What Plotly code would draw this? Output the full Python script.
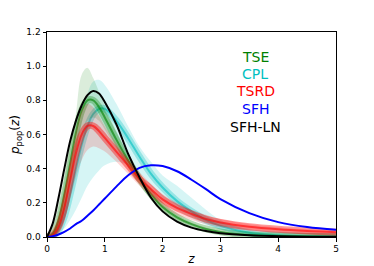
import plotly.graph_objects as go

# redshift grid
z = [0, 0.1, 0.2, 0.3, 0.4, 0.5, 0.6, 0.7, 0.8, 0.9, 1.0, 1.2, 1.4, 1.6, 1.8,
     2.0, 2.25, 2.5, 2.75, 3.0, 3.5, 4.0, 4.5, 5.0]

# SFH-LN (black)
sfh_ln = [0, 0.08, 0.23, 0.40, 0.56, 0.68, 0.77, 0.83, 0.855, 0.84, 0.79, 0.66,
          0.49, 0.35, 0.23, 0.15, 0.09, 0.055, 0.035, 0.022, 0.01, 0.005, 0.002, 0.001]
# SFH (blue)
sfh = [0, 0.005, 0.015, 0.03, 0.05, 0.075, 0.095, 0.125, 0.155, 0.19, 0.225, 0.295,
       0.36, 0.405, 0.42, 0.415, 0.385, 0.335, 0.28, 0.222, 0.14, 0.087, 0.058, 0.042]

# TSE (green) posterior band
tse_hi = [0, 0.03, 0.15, 0.33, 0.52, 0.72, 0.95, 0.99, 0.93, 0.85, 0.77, 0.62, 0.48,
          0.36, 0.26, 0.19, 0.13, 0.085, 0.055, 0.035, 0.015, 0.007, 0.003, 0.002]
tse_mid = [0, 0.02, 0.10, 0.25, 0.43, 0.61, 0.74, 0.80, 0.80, 0.76, 0.70, 0.57, 0.45,
           0.34, 0.25, 0.175, 0.115, 0.075, 0.047, 0.03, 0.012, 0.006, 0.003, 0.001]
tse_lo = [0, 0.01, 0.06, 0.17, 0.33, 0.50, 0.62, 0.68, 0.70, 0.68, 0.63, 0.52, 0.41,
          0.31, 0.22, 0.155, 0.10, 0.065, 0.04, 0.025, 0.01, 0.005, 0.002, 0.001]

# CPL (cyan) posterior band
cpl_hi = [0, 0.01, 0.07, 0.20, 0.38, 0.56, 0.72, 0.84, 0.91, 0.92, 0.89, 0.78, 0.65,
          0.53, 0.44, 0.36, 0.30, 0.23, 0.16, 0.10, 0.04, 0.015, 0.007, 0.003]
cpl_mid = [0, 0.006, 0.04, 0.12, 0.25, 0.40, 0.54, 0.65, 0.72, 0.75, 0.75, 0.68, 0.58,
           0.47, 0.37, 0.29, 0.21, 0.15, 0.10, 0.065, 0.025, 0.01, 0.004, 0.002]
cpl_lo = [0, 0.003, 0.02, 0.05, 0.10, 0.16, 0.23, 0.30, 0.35, 0.39, 0.42, 0.44, 0.42,
          0.37, 0.30, 0.23, 0.16, 0.11, 0.07, 0.045, 0.015, 0.005, 0.002, 0.001]

# TSRD (red) posterior band
tsrd_hi = [0, 0.02, 0.10, 0.25, 0.44, 0.62, 0.74, 0.78, 0.76, 0.71, 0.65, 0.55, 0.46,
           0.38, 0.31, 0.25, 0.20, 0.16, 0.13, 0.105, 0.075, 0.057, 0.045, 0.038]
tsrd_mid = [0, 0.01, 0.06, 0.17, 0.33, 0.49, 0.60, 0.65, 0.65, 0.62, 0.58, 0.50, 0.42,
            0.34, 0.28, 0.22, 0.17, 0.135, 0.105, 0.085, 0.06, 0.045, 0.035, 0.028]
tsrd_lo = [0, 0.005, 0.03, 0.10, 0.22, 0.35, 0.45, 0.51, 0.53, 0.52, 0.50, 0.44, 0.37,
           0.30, 0.24, 0.18, 0.13, 0.10, 0.075, 0.055, 0.035, 0.025, 0.018, 0.013]

legend_names = ["TSE", "CPL", "TSRD", "SFH", "SFH-LN"]
legend_colors = ["#008000", "#00BFBF", "#FF0000", "#0000FF", "#000000"]
legend_y = [1.055, 0.953, 0.852, 0.75, 0.645]

fig = go.Figure()


def rgba(hexc, a):
    h = hexc.lstrip("#")
    return "rgba(%d,%d,%d,%.3f)" % (int(h[0:2], 16), int(h[2:4], 16), int(h[4:6], 16), a)


def add_band(lo, mid, hi, col, fill_a, core_a):
    fig.add_trace(go.Scatter(x=z, y=lo, mode="lines", line=dict(width=0, shape="spline"),
                             showlegend=False, hoverinfo="skip"))
    fig.add_trace(go.Scatter(x=z, y=hi, mode="lines", line=dict(width=0, shape="spline"),
                             fill="tonexty", fillcolor=rgba(col, fill_a),
                             showlegend=False, hoverinfo="skip"))
    fig.add_trace(go.Scatter(x=z, y=mid, mode="lines",
                             line=dict(width=7, color=rgba(col, core_a), shape="spline"),
                             showlegend=False, hoverinfo="skip"))
    fig.add_trace(go.Scatter(x=z, y=mid, mode="lines",
                             line=dict(width=2, color=rgba(col, 0.6), shape="spline"),
                             showlegend=False, hoverinfo="skip"))


add_band(cpl_lo, cpl_mid, cpl_hi, "#00BFBF", 0.16, 0.30)
add_band(tse_lo, tse_mid, tse_hi, "#008000", 0.14, 0.30)
add_band(tsrd_lo, tsrd_mid, tsrd_hi, "#FF0000", 0.16, 0.40)

fig.add_trace(go.Scatter(x=z, y=sfh, mode="lines",
                         line=dict(width=2, color="#0000FF", shape="spline"), showlegend=False))
fig.add_trace(go.Scatter(x=z, y=sfh_ln, mode="lines",
                         line=dict(width=2, color="#000000", shape="spline"), showlegend=False))

for name, col, yy in zip(legend_names, legend_colors, legend_y):
    fig.add_annotation(x=3.6, y=yy, text=name, showarrow=False, xanchor="center",
                       yanchor="middle", font=dict(size=14, color=col, family="DejaVu Sans"))

axis_common = dict(showline=True, linecolor="black", linewidth=1, mirror=True,
                   ticks="outside", ticklen=3.5, tickwidth=1, tickcolor="black",
                   showgrid=False, zeroline=False, automargin=False,
                   tickfont=dict(size=9, family="DejaVu Sans", color="black"))

fig.update_xaxes(range=[0, 5], tickvals=[0, 1, 2, 3, 4, 5],
                 title=dict(text="<i>z</i>", font=dict(size=12, family="DejaVu Sans", color="black"),
                            standoff=13),
                 **axis_common)
fig.update_yaxes(range=[0, 1.2], tickvals=[0, 0.2, 0.4, 0.6, 0.8, 1.0, 1.2], tickformat=".1f",
                 title=dict(text="<i>p</i><sub>pop</sub>(<i>z</i>)",
                            font=dict(size=12, family="DejaVu Sans", color="black"), standoff=5),
                 **axis_common)

# page body adds an 8px offset, so the figure is sized to fill the 374x266 window
fig.update_layout(width=366, height=258, margin=dict(l=39, r=38, t=24, b=29),
                  plot_bgcolor="white", paper_bgcolor="white", showlegend=False)

fig.write_html("out.html")
